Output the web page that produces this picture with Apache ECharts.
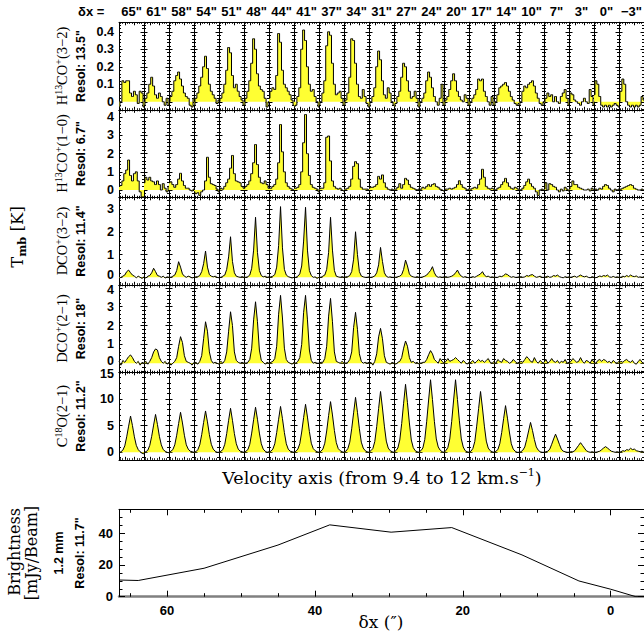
<!DOCTYPE html>
<html><head><meta charset="utf-8">
<script src="https://cdn.jsdelivr.net/npm/echarts@6/dist/echarts.min.js"></script>
<style>html,body{margin:0;padding:0;background:#fff}#c{width:644px;height:637px}</style>
</head><body><div id="c"></div>
<script>
// ---------------- data ----------------
const velocity = [9.4, 9.6, 9.8, 10.0, 10.2, 10.4, 10.6, 10.8, 11.0, 11.2, 11.4, 11.6, 11.8, 12.0];
const offsetLabels = ['65"', '61"', '58"', '54"', '51"', '48"', '44"', '41"', '37"', '34"', '31"', '27"', '24"', '20"', '17"', '14"', '10"', '7"', '3"', '0"', '\u22123"'];
const offsetTitle = '\u03b4x =';
const lineNames = [
  '{n|H}{s|13}{n|CO}{s|+}{n|(3\u22122)}',
  '{n|H}{s|13}{n|CO}{s|+}{n|(1\u22120)}',
  '{n|DCO}{s|+}{n|(3\u22122)}',
  '{n|DCO}{s|+}{n|(2\u22121)}',
  '{n|C}{s|18}{n|O(2\u22121)}'
];
const resolutions = ['Resol: 13.5"', 'Resol: 6.7"', 'Resol: 11.4"', 'Resol: 18"', 'Resol: 11.2"'];

const h13copHigh = [
  [-0.03, 0.0, 0.12, 0.11, 0.12, 0.12, 0.05, 0.03, 0.06, 0.04, -0.01, 0.06, 0.05, -0.03],
  [-0.02, 0.02, 0.05, 0.10, 0.14, 0.09, 0.04, 0.02, 0.05, 0.03, 0.0, -0.02, 0.02, -0.02],
  [0.0, 0.03, 0.06, 0.12, 0.15, 0.17, 0.13, 0.09, 0.05, 0.03, 0.02, -0.02, -0.03, 0.02],
  [-0.02, 0.02, 0.05, 0.09, 0.14, 0.20, 0.26, 0.19, 0.10, 0.06, 0.04, 0.02, -0.01, 0.01],
  [0.0, 0.02, 0.05, 0.10, 0.18, 0.31, 0.28, 0.15, 0.08, 0.10, 0.06, 0.03, 0.01, -0.02],
  [-0.02, 0.02, 0.06, 0.12, 0.22, 0.36, 0.30, 0.16, 0.09, 0.07, 0.06, 0.02, -0.03, 0.0],
  [0.02, 0.06, 0.08, 0.07, 0.15, 0.39, 0.34, 0.18, 0.10, 0.08, 0.06, 0.04, 0.01, -0.02],
  [-0.03, -0.02, 0.03, 0.08, 0.30, 0.41, 0.35, 0.20, 0.10, 0.06, 0.07, 0.03, 0.0, -0.03],
  [-0.02, 0.0, 0.05, 0.12, 0.32, 0.40, 0.38, 0.22, 0.10, 0.04, 0.05, 0.06, 0.02, -0.02],
  [-0.02, 0.01, 0.05, 0.14, 0.36, 0.35, 0.22, 0.10, 0.03, 0.02, 0.07, 0.03, -0.01, -0.03],
  [-0.03, 0.0, 0.03, 0.08, 0.20, 0.29, 0.24, 0.12, 0.04, 0.02, 0.08, 0.05, 0.0, -0.02],
  [-0.03, -0.01, 0.03, 0.06, 0.14, 0.22, 0.20, 0.12, 0.06, 0.02, 0.03, 0.06, 0.02, -0.03],
  [-0.03, 0.0, 0.02, 0.05, 0.12, 0.17, 0.14, 0.08, 0.03, 0.0, -0.02, 0.02, 0.10, -0.02],
  [-0.02, 0.01, 0.03, 0.07, 0.12, 0.16, 0.12, 0.06, 0.03, 0.01, 0.0, 0.04, 0.02, -0.02],
  [-0.02, 0.0, 0.02, 0.04, 0.07, 0.13, 0.12, 0.13, 0.06, 0.03, 0.0, -0.02, 0.03, -0.02],
  [-0.02, 0.0, 0.04, 0.08, 0.09, 0.10, 0.11, 0.09, 0.06, 0.03, 0.01, -0.01, -0.02, -0.01],
  [-0.02, 0.0, 0.06, 0.09, 0.08, 0.10, 0.11, 0.12, 0.09, 0.05, 0.02, -0.01, -0.02, 0.0],
  [-0.01, 0.02, 0.05, 0.03, 0.04, 0.0, 0.03, 0.0, -0.01, 0.03, 0.05, 0.07, 0.02, -0.02],
  [0.0, 0.05, 0.04, 0.01, 0.0, -0.01, -0.02, 0.0, 0.02, 0.0, -0.01, 0.07, 0.03, -0.02],
  [0.04, 0.12, 0.10, 0.03, -0.02, -0.03, -0.02, -0.03, -0.02, -0.03, -0.02, -0.01, -0.02, -0.03],
  [0.0, 0.06, 0.13, 0.10, 0.0, -0.02, -0.03, -0.02, -0.03, -0.02, -0.03, -0.02, 0.03, 0.01]
];
const h13copLow = [
  [0.2, 0.25, 0.5, 0.9, 1.1, 1.65, 0.8, 0.5, 0.9, 1.0, 0.5, -0.1, -0.38, -0.38],
  [0.4, 0.7, 0.55, 0.7, 0.5, 0.45, 0.3, 0.5, 0.3, 0.0, 0.35, 0.1, -0.1, 0.2],
  [0.4, 0.45, 0.3, 0.15, 0.3, 0.6, 0.92, 0.5, 0.25, 0.1, 0.1, 0.0, -0.05, 0.05],
  [-0.1, -0.2, -0.15, -0.3, -0.1, 0.0, 0.5, 1.8, 0.7, 0.35, 0.3, 0.25, 0.05, -0.1],
  [0.0, 0.1, 0.05, 0.2, 0.4, 0.6, 1.2, 1.9, 0.9, 0.5, 0.45, 0.4, 0.2, 0.1],
  [0.1, 0.2, 0.3, 0.5, 0.9, 1.5, 2.5, 1.4, 0.7, 0.4, 0.35, 0.5, 0.3, 0.1],
  [0.1, 0.1, 0.2, 0.3, 0.6, 1.5, 3.6, 2.1, 1.0, 0.4, 0.2, 0.1, 0.05, 0.0],
  [0.1, 0.1, 0.15, 0.3, 1.0, 2.6, 4.15, 2.0, 0.8, 0.3, 0.15, 0.1, 0.05, -0.1],
  [0.05, 0.1, 0.1, 0.4, 2.9, 2.97, 1.6, 0.5, 0.2, 0.1, 0.05, 0.1, 0.0, -0.05],
  [0.05, 0.05, 0.1, 0.2, 0.6, 1.3, 1.56, 1.45, 0.6, 0.15, 0.05, 0.05, 0.05, 0.0],
  [0.1, 0.15, 0.15, 0.2, 0.3, 0.75, 0.6, 0.83, 0.4, 0.15, 0.05, 0.0, 0.05, 0.0],
  [0.05, 0.05, 0.15, 0.35, 0.1, 0.3, 0.64, 0.55, 0.3, 0.15, 0.1, 0.05, 0.0, 0.05],
  [0.0, 0.05, 0.15, 0.1, 0.2, 0.3, 0.2, 0.3, 0.35, 0.2, 0.15, 0.05, 0.0, -0.05],
  [0.0, 0.05, 0.05, 0.1, 0.05, 0.1, 0.15, 0.3, 0.51, 0.3, 0.15, 0.1, 0.0, 0.05],
  [0.05, 0.05, 0.1, 0.15, 0.1, 0.3, 0.6, 1.14, 0.7, 0.2, 0.1, 0.05, 0.1, 0.05],
  [0.05, 0.0, 0.1, 0.15, 0.3, 0.45, 0.64, 0.4, 0.2, 0.1, 0.05, 0.15, 0.1, 0.0],
  [0.05, 0.0, 0.1, 0.25, 0.45, 0.6, 0.35, 0.2, 0.1, -0.1, -0.3, 0.0, 0.05, 0.0],
  [0.05, 0.4, 0.0, 0.35, 0.3, 0.2, 0.15, 0.0, -0.1, 0.05, -0.05, 0.15, 0.05, -0.05],
  [0.05, 0.2, 0.5, 0.3, 0.3, 0.15, 0.1, 0.05, 0.0, 0.0, 0.05, -0.05, 0.1, 0.0],
  [0.0, 0.05, 0.0, 0.1, 0.05, 0.2, 0.3, 0.25, 0.1, 0.0, -0.1, 0.05, 0.0, 0.05],
  [0.0, 0.05, 0.1, 0.15, 0.2, 0.25, 0.3, 0.25, 0.1, 0.05, 0.0, 0.0, 0.05, 0.0]
];
const dcop32 = [
  [-0.05, 0.0, 0.05, 0.1, 0.25, 0.32, 0.2, 0.1, 0.05, -0.02, 0.05, 0.0, -0.05, 0.02],
  [0.0, -0.03, 0.05, 0.08, 0.2, 0.4, 0.25, 0.08, 0.05, 0.0, 0.05, -0.03, 0.02, 0.0],
  [0.02, 0.0, 0.05, 0.1, 0.3, 0.69, 0.45, 0.15, 0.05, 0.0, 0.05, 0.02, -0.03, 0.0],
  [0.0, 0.02, 0.03, 0.08, 0.25, 0.6, 1.16, 0.45, 0.12, 0.05, 0.02, 0.05, 0.0, -0.02],
  [0.0, 0.0, 0.05, 0.1, 0.35, 0.9, 1.79, 0.7, 0.2, 0.05, 0.02, 0.0, 0.03, 0.0],
  [0.02, 0.0, 0.03, 0.1, 0.4, 1.2, 2.65, 1.1, 0.3, 0.08, 0.02, 0.05, 0.0, 0.02],
  [0.0, 0.02, 0.05, 0.12, 0.45, 1.4, 3.12, 1.3, 0.35, 0.1, 0.03, 0.0, -0.03, 0.0],
  [0.0, 0.0, 0.05, 0.15, 0.5, 1.6, 3.09, 1.2, 0.3, 0.08, 0.0, 0.02, -0.05, 0.0],
  [0.02, 0.0, 0.05, 0.1, 0.35, 1.1, 2.65, 1.2, 0.3, 0.05, 0.02, 0.0, 0.03, 0.0],
  [0.0, 0.02, 0.03, 0.08, 0.25, 0.8, 2.01, 1.0, 0.25, 0.06, 0.02, 0.0, 0.0, 0.02],
  [0.0, 0.0, 0.02, 0.06, 0.2, 0.55, 1.32, 0.7, 0.2, 0.05, 0.0, 0.02, 0.0, 0.0],
  [0.02, 0.0, 0.03, 0.05, 0.12, 0.35, 0.76, 0.5, 0.15, 0.05, 0.02, 0.0, 0.03, 0.0],
  [0.0, 0.0, 0.02, 0.05, 0.1, 0.2, 0.3, 0.47, 0.2, 0.05, 0.0, 0.02, 0.0, 0.02],
  [0.0, 0.03, 0.0, 0.02, 0.05, 0.1, 0.2, 0.32, 0.15, 0.05, 0.0, 0.03, 0.0, -0.02],
  [0.0, 0.0, 0.03, 0.0, 0.05, 0.1, 0.15, 0.25, 0.1, 0.03, 0.05, 0.0, 0.02, 0.0],
  [0.02, 0.0, 0.0, 0.05, 0.03, 0.08, 0.15, 0.12, 0.05, 0.0, 0.03, 0.0, 0.0, 0.02],
  [0.0, 0.03, 0.0, 0.02, 0.08, 0.05, 0.1, 0.12, 0.05, 0.0, 0.02, 0.05, 0.0, 0.0],
  [0.0, 0.02, 0.05, 0.0, 0.02, 0.08, 0.05, 0.1, 0.03, 0.0, -0.02, 0.03, 0.0, 0.02],
  [0.02, 0.0, 0.03, 0.05, 0.0, 0.05, 0.1, 0.05, 0.02, 0.05, 0.0, -0.02, 0.03, 0.0],
  [0.0, -0.02, 0.02, 0.06, 0.03, 0.08, 0.05, 0.1, 0.02, 0.0, 0.04, 0.0, 0.02, 0.0],
  [0.02, 0.0, 0.05, 0.02, 0.08, 0.03, 0.1, 0.05, 0.03, 0.06, 0.0, 0.02, 0.0, 0.03]
];
const dcop21 = [
  [0.1, -0.1, 0.15, 0.05, 0.2, 0.35, 0.44, 0.3, 0.1, 0.0, 0.1, -0.1, 0.05, 0.0],
  [0.0, 0.1, -0.05, 0.1, 0.3, 0.6, 0.76, 0.7, 0.3, 0.1, 0.0, 0.1, -0.05, 0.05],
  [0.05, -0.1, 0.0, 0.1, 0.3, 0.9, 1.41, 1.1, 0.4, 0.1, 0.05, 0.0, -0.1, 0.05],
  [0.0, 0.05, -0.05, 0.1, 0.4, 1.3, 2.2, 1.7, 0.6, 0.15, 0.0, 0.05, 0.0, -0.05],
  [0.0, 0.1, 0.0, 0.15, 0.6, 1.7, 2.73, 2.0, 0.6, 0.15, 0.05, 0.0, 0.05, 0.0],
  [0.05, 0.0, 0.05, 0.2, 0.8, 2.3, 3.26, 2.2, 0.7, 0.15, 0.05, -0.05, 0.05, 0.0],
  [0.0, 0.05, 0.1, 0.25, 0.9, 2.6, 3.6, 2.4, 0.8, 0.2, 0.05, 0.0, -0.05, 0.05],
  [0.05, 0.0, 0.1, 0.3, 1.0, 2.7, 3.6, 2.3, 0.7, 0.15, 0.0, 0.05, 0.0, 0.0],
  [0.0, 0.05, 0.05, 0.25, 0.9, 2.5, 3.44, 2.2, 0.6, 0.1, 0.05, 0.0, 0.1, 0.0],
  [0.05, 0.0, 0.05, 0.2, 0.6, 1.9, 2.7, 1.8, 0.5, 0.1, 0.0, 0.05, 0.0, 0.05],
  [0.0, 0.05, -0.1, 0.1, 0.5, 1.4, 1.85, 1.3, 0.4, 0.05, 0.0, -0.05, 0.05, 0.0],
  [0.0, -0.05, 0.05, 0.1, 0.3, 0.8, 1.18, 0.9, 0.3, 0.05, 0.1, 0.0, 0.05, -0.05],
  [0.05, 0.0, 0.05, 0.05, 0.2, 0.45, 0.67, 0.5, 0.2, 0.1, 0.0, 0.25, 0.1, 0.0],
  [0.0, 0.1, 0.25, 0.1, 0.15, 0.2, 0.3, 0.2, 0.1, 0.0, 0.15, 0.05, -0.05, 0.05],
  [0.0, 0.05, 0.15, 0.0, 0.1, 0.2, 0.1, 0.15, 0.05, 0.15, 0.25, 0.05, 0.0, 0.1],
  [0.05, 0.0, 0.2, 0.1, 0.05, 0.25, 0.15, 0.1, 0.0, 0.05, 0.2, 0.1, 0.0, 0.05],
  [0.0, 0.1, 0.05, 0.2, 0.35, 0.25, 0.1, 0.05, 0.3, 0.1, 0.0, 0.15, 0.05, 0.0],
  [0.05, 0.2, 0.0, 0.1, 0.25, 0.1, 0.05, 0.15, 0.0, 0.1, 0.05, 0.2, 0.0, 0.05],
  [0.0, 0.1, 0.25, 0.15, 0.05, 0.1, 0.3, 0.1, 0.0, 0.15, 0.1, 0.0, 0.2, 0.05],
  [0.05, 0.0, 0.15, 0.2, 0.1, 0.2, 0.15, 0.05, 0.1, 0.0, 0.15, 0.05, 0.0, 0.1],
  [0.0, 0.1, 0.05, 0.15, 0.2, 0.1, 0.05, 0.15, 0.0, -0.05, 0.1, 0.2, 0.05, 0.0]
];
const c18o21 = [
  [-0.1, 0.1, 0.4, 1.2, 2.9, 4.9, 6.8, 5.0, 2.9, 1.3, 0.5, 0.1, -0.2, -0.3],
  [0.0, 0.1, 0.4, 1.3, 3.0, 5.1, 7.1, 5.2, 3.0, 1.4, 0.5, 0.2, 0.0, -0.1],
  [0.0, 0.2, 0.5, 1.4, 3.2, 5.4, 7.5, 5.5, 3.2, 1.4, 0.6, 0.2, 0.1, 0.0],
  [0.1, 0.1, 0.5, 1.4, 3.3, 5.6, 7.75, 5.7, 3.3, 1.5, 0.6, 0.2, 0.0, 0.0],
  [0.0, 0.2, 0.5, 1.5, 3.5, 6.0, 8.25, 6.0, 3.5, 1.6, 0.6, 0.2, 0.1, 0.0],
  [0.0, 0.2, 0.5, 1.5, 3.6, 6.1, 8.45, 6.2, 3.6, 1.6, 0.6, 0.2, 0.0, 0.1],
  [0.1, 0.2, 0.6, 1.6, 3.7, 6.2, 8.6, 6.3, 3.7, 1.6, 0.6, 0.2, 0.1, 0.0],
  [0.0, 0.2, 0.6, 1.6, 3.8, 6.5, 9.0, 6.6, 3.9, 1.7, 0.7, 0.3, 0.1, 0.0],
  [0.0, 0.2, 0.6, 1.7, 4.0, 6.9, 9.5, 7.0, 4.1, 1.8, 0.7, 0.3, 0.1, 0.0],
  [0.1, 0.2, 0.7, 1.9, 4.4, 7.4, 10.3, 7.5, 4.4, 1.9, 0.8, 0.3, 0.1, 0.0],
  [0.0, 0.3, 0.7, 2.0, 4.8, 8.2, 11.4, 8.3, 4.9, 2.1, 0.8, 0.3, 0.1, 0.0],
  [0.0, 0.3, 0.8, 2.3, 5.4, 9.2, 12.75, 9.3, 5.5, 2.3, 0.9, 0.3, 0.1, 0.0],
  [0.1, 0.3, 0.8, 2.4, 5.8, 9.8, 13.6, 9.9, 5.8, 2.5, 1.0, 0.4, 0.1, 0.0],
  [0.0, 0.3, 0.9, 2.5, 5.8, 9.8, 13.6, 9.9, 5.9, 2.5, 1.0, 0.3, 0.1, 0.0],
  [0.0, 0.2, 0.7, 2.0, 4.9, 8.2, 11.4, 8.3, 4.9, 2.1, 0.8, 0.3, 0.1, 0.0],
  [0.0, 0.2, 0.5, 1.6, 3.7, 6.3, 8.75, 6.4, 3.8, 1.6, 0.6, 0.2, 0.0, 0.0],
  [0.0, 0.1, 0.4, 1.0, 2.4, 4.0, 5.6, 4.1, 2.4, 1.0, 0.4, 0.1, 0.0, 0.0],
  [0.0, 0.1, 0.2, 0.6, 1.5, 2.5, 3.4, 2.5, 1.5, 0.6, 0.2, 0.1, 0.0, 0.0],
  [0.0, 0.1, 0.1, 0.3, 0.8, 1.3, 1.8, 1.3, 0.8, 0.3, 0.1, 0.0, 0.1, 0.0],
  [0.1, 0.0, 0.1, 0.2, 0.5, 0.8, 1.06, 0.8, 0.5, 0.2, 0.1, 0.0, 0.1, 0.0],
  [0.0, 0.1, 0.3, 0.2, 0.5, 0.4, 0.75, 0.5, 0.6, 0.3, 0.2, 0.1, 0.2, 0.0]
];
const brightnessOffset = [66.5, 63.9, 55.0, 45.0, 38.0, 29.7, 21.5, 12.0, 4.3, 0.0, -3.4, -4.5];
const brightnessValue = [10.5, 10.2, 17.9, 32.5, 45.2, 40.6, 43.5, 26.3, 9.9, 4.7, 0.0, 0.0];

// ---------------- layout / style ----------------
const rows = [
  {data: h13copHigh, step: true, range: [-0.046, 0.454], split: 5},
  {data: h13copLow, step: true, range: [-0.40, 4.41], split: 5},
  {data: dcop32, step: false, range: [-0.33, 3.53], split: 5, lowZero: true},
  {data: dcop21, step: false, range: [-0.48, 4.16], split: 5, lowZero: true, topTick: 4},
  {data: c18o21, step: false, range: [-1.41, 15], split: 3, topTick: 15}
];
const TOP0 = 22.3, ROWH = 87.5, LEFT0 = 119, COLW = 25;
const SANS = 'Liberation Sans', SERIF = 'DejaVu Serif', TIMES = 'Liberation Serif';
const tickFont = {fontFamily: SANS, fontSize: 12.5, fontWeight: 'bold', color: '#000'};

const grids = [], xAxes = [], yAxes = [], series = [];
function xSpec(gi, pos) {
  return {gridIndex: gi, type: 'value', position: pos, min: 9.4, max: 12, splitNumber: 3,
    axisLine: {show: true, onZero: false, lineStyle: {color: '#000', width: 1}},
    axisTick: {show: true, inside: true, length: 3, lineStyle: {color: '#000'}},
    minorTick: {show: true, splitNumber: 4, length: 1.5, lineStyle: {color: '#000'}},
    axisLabel: {show: false}, splitLine: {show: false}, silent: true};
}
function ySpec(gi, pos, r, lab) {
  const row = rows[r];
  return {gridIndex: gi, type: 'value', position: pos, min: row.range[0], max: row.range[1],
    splitNumber: row.split,
    axisLine: {show: true, onZero: false, lineStyle: {color: '#000', width: 1}},
    axisTick: {show: true, inside: true, length: 3.5, lineStyle: {color: '#000'}},
    minorTick: {show: true, splitNumber: 5, length: 2, lineStyle: {color: '#000'}},
    axisLabel: Object.assign({show: lab, showMinLabel: false, showMaxLabel: r === 4, margin: 5,
      formatter: function (v) {
        if (row.lowZero && v === 0) return '{u|0}';
        if (row.topTick !== undefined && v === row.topTick) return '{d|' + v + '}';
        return String(v);
      },
      rich: {
        u: Object.assign({padding: [0, 0, 4, 0]}, tickFont),
        d: Object.assign({padding: [4, 0, 0, 0]}, tickFont)
      }}, tickFont),
    splitLine: {show: false}, silent: true};
}
rows.forEach((row, r) => {
  row.data.forEach((vals, c) => {
    const gi = grids.length;
    grids.push({left: LEFT0 + COLW * c, top: TOP0 + ROWH * r, width: COLW, height: ROWH, outerBoundsMode: 'none'});
    const xi = xAxes.length, yi = yAxes.length;
    xAxes.push(xSpec(gi, 'bottom'), xSpec(gi, 'top'));
    yAxes.push(ySpec(gi, 'left', r, c === 0), ySpec(gi, 'right', r, false));
    series.push({type: 'line', xAxisIndex: xi, yAxisIndex: yi, silent: true,
      data: velocity.map((v, i) => [v, vals[i]]), step: row.step ? 'middle' : false,
      symbol: 'none', lineStyle: {color: '#000', width: 1},
      areaStyle: {color: '#ffff33', opacity: 1}});
  });
});
// brightness panel
{
  const gi = grids.length;
  grids.push({left: 119, top: 509.3, width: 525, height: 87.4, outerBoundsMode: 'none'});
  const xi = xAxes.length, yi = yAxes.length;
  const bx = (pos, lab) => ({gridIndex: gi, type: 'value', position: pos, inverse: true, min: -4.5, max: 66.5, splitNumber: 4,
    axisLine: {show: true, onZero: false, lineStyle: pos === 'bottom' ? {color: '#808080', width: 2.5} : {color: '#000', width: 1}},
    axisTick: {show: true, inside: true, length: 6, lineStyle: {color: '#000'}},
    minorTick: {show: true, splitNumber: 4, length: 3.5, lineStyle: {color: '#000'}},
    axisLabel: Object.assign({show: lab, showMinLabel: false, showMaxLabel: false, margin: 7}, tickFont, {fontSize: 13}),
    splitLine: {show: false}, silent: true});
  const by = (pos, lab) => ({gridIndex: gi, type: 'value', position: pos, min: 0, max: 55, interval: 20,
    axisLine: {show: true, onZero: false, lineStyle: {color: '#000', width: 1}},
    axisTick: {show: true, inside: true, length: 6, lineStyle: {color: '#000'}},
    minorTick: {show: true, splitNumber: 4, length: 3.5, lineStyle: {color: '#000'}},
    axisLabel: Object.assign({show: lab, showMaxLabel: false, margin: 6}, tickFont, {fontSize: 13}),
    splitLine: {show: false}, silent: true});
  xAxes.push(bx('bottom', true), bx('top', false));
  yAxes.push(by('left', true), by('right', false));
  series.push({type: 'line', xAxisIndex: xi, yAxisIndex: yi, silent: true, symbol: 'none',
    data: brightnessOffset.map((x, i) => [x, brightnessValue[i]]),
    lineStyle: {color: '#000', width: 1}});
}

// ---------------- texts ----------------
const graphics = [];
function txt(x, y, text, style, rot) {
  graphics.push({type: 'text', x: x, y: y, rotation: rot || 0, silent: true,
    style: Object.assign({text: text, fill: '#000', align: 'center', verticalAlign: 'middle'}, style)});
}
const boldSans = {fontFamily: SANS, fontSize: 13, fontWeight: 'bold'};
txt(78, 11, offsetTitle, Object.assign({}, boldSans, {align: 'left'}));
offsetLabels.forEach((s, c) => txt(LEFT0 + COLW * c + COLW / 2, 11, s, boldSans));
const nameRich = {
  n: {fontFamily: TIMES, fontSize: 14.5, lineHeight: 18, fill: '#000'},
  s: {fontFamily: TIMES, fontSize: 10, lineHeight: 10, verticalAlign: 'top', fill: '#000'}
};
const V = Math.PI / 2;
lineNames.forEach((s, r) => {
  const cy = TOP0 + ROWH * r + ROWH / 2;
  txt(62, cy, s, {rich: nameRich}, V);
  txt(81, cy, resolutions[r], {fontFamily: SANS, fontSize: 12.5, fontWeight: 'bold'}, V);
});
txt(17, 237, '{n|T}{b|mb}{n| [K]}', {rich: {
  n: {fontFamily: SERIF, fontSize: 16.5, lineHeight: 22, fill: '#000'},
  b: {fontFamily: SERIF, fontSize: 11.5, fontWeight: 'bold', lineHeight: 12, verticalAlign: 'bottom', fill: '#000'}}}, V);
txt(382, 478, '{n|Velocity axis (from 9.4 to 12 km.s}{s|\u22121}{n|)}', {rich: {
  n: {fontFamily: SERIF, fontSize: 17.5, lineHeight: 22, fill: '#000'},
  s: {fontFamily: SERIF, fontSize: 11, lineHeight: 11, verticalAlign: 'top', fill: '#000'}}});
txt(14, 552, 'Brightness', {fontFamily: SERIF, fontSize: 16}, V);
txt(31, 553, '[mJy/Beam]', {fontFamily: SERIF, fontSize: 16}, V);
txt(59, 553, '1.2 mm', {fontFamily: SANS, fontSize: 12.5, fontWeight: 'bold'}, V);
txt(80, 553, 'Resol: 11.7"', {fontFamily: SANS, fontSize: 12.5, fontWeight: 'bold'}, V);
txt(381, 622, '\u03b4x (\u2033)', {fontFamily: SERIF, fontSize: 17});

const chart = echarts.init(document.getElementById('c'), null, {renderer: 'svg'});
chart.setOption({
  animation: false, backgroundColor: '#fff',
  grid: grids, xAxis: xAxes, yAxis: yAxes, series: series,
  graphic: {elements: graphics}
});
</script></body></html>
